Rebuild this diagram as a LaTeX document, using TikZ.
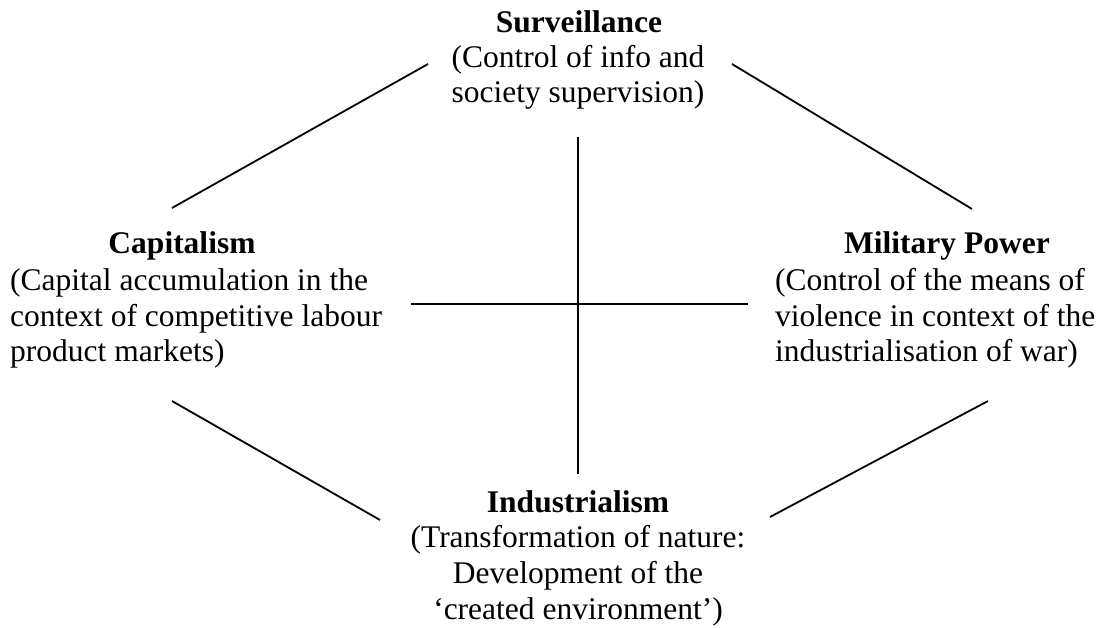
\documentclass[tikz,border=0pt]{standalone}
\usepackage{fontspec}
\setmainfont{Liberation Serif}
\tikzset{
  title/.style={inner sep=0pt,anchor=base,font=\fontsize{31.5}{35.8}\selectfont\bfseries},
  body/.style={inner sep=0pt,font=\fontsize{31.5}{35.8}\selectfont},
  link/.style={line width=1.8pt}
}
\begin{document}
\begin{tikzpicture}[x=1pt,y=-1pt]
    \useasboundingbox (0,0) rectangle (1112,628);
    \node[title] (surv) at (579,33) {Surveillance};
    \node[body,align=center,anchor=base] (survtext) at (578,103) {(Control of info and\\society supervision)};
    \node[title] (cap) at (182,254) {Capitalism};
    \node[body,align=left,anchor=base west] (captext) at (10,362) {(Capital accumulation in the\\context of competitive labour\\product markets)};
    \node[title] (mil) at (947,254) {Military Power};
    \node[body,align=left,anchor=base west] (miltext) at (775,362) {(Control of the means of\\violence in context of the\\industrialisation of war)};
    \node[title] (ind) at (578,512) {Industrialism};
    \node[body,align=center,anchor=base] (indtext) at (578,619) {(Transformation of nature:\\Development of the\\`created environment')};
    \coordinate (cs) at (172,208);
    \coordinate (sc) at (428,64);
    \coordinate (sm) at (732,64);
    \coordinate (ms) at (972,209);
    \coordinate (ci) at (172,401);
    \coordinate (ic) at (380,520);
    \coordinate (mi) at (988,401);
    \coordinate (im) at (770,517);
    \coordinate (top) at (578,137);
    \coordinate (bot) at (578,474);
    \coordinate (left) at (411,304);
    \coordinate (right) at (748,304);
    \draw[link] (cs) -- (sc);
    \draw[link] (sm) -- (ms);
    \draw[link] (ci) -- (ic);
    \draw[link] (mi) -- (im);
    \draw[link] (top) -- (bot);
    \draw[link] (left) -- (right);
\end{tikzpicture}
\end{document}
